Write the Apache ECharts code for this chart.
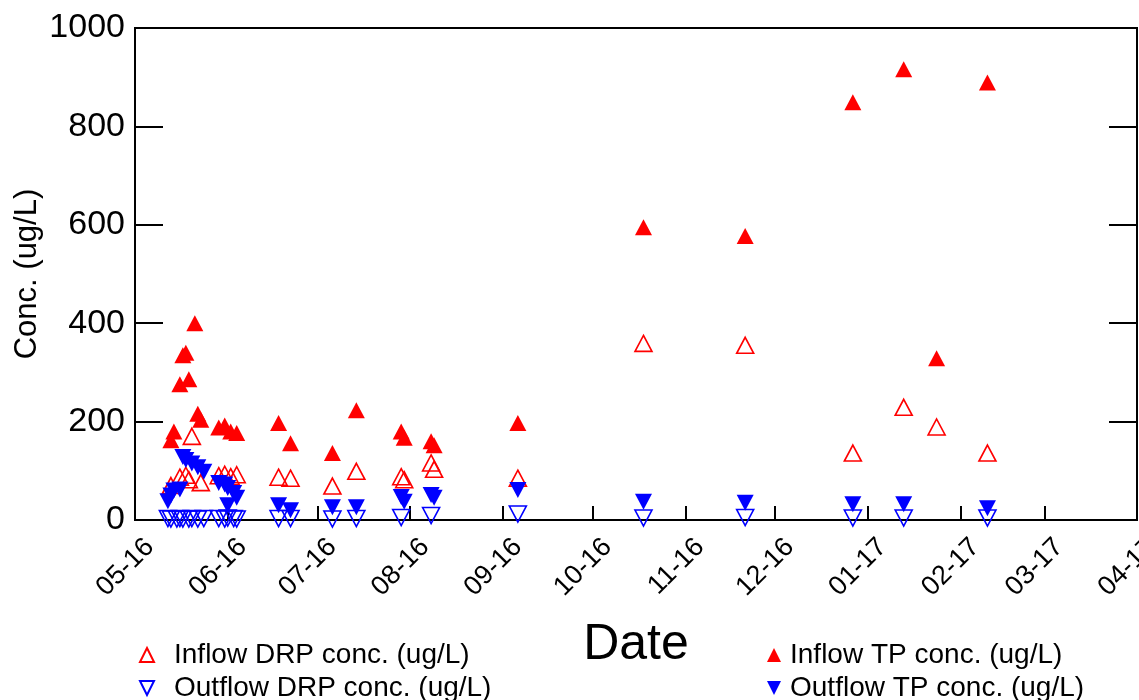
<!DOCTYPE html>
<html>
<head>
<meta charset="utf-8">
<title>Conc. (ug/L)</title>
<script src="https://cdn.jsdelivr.net/npm/echarts@6/dist/echarts.min.js"></script>
<style>
  html, body { margin: 0; padding: 0; background: #fff; }
  #chart { width: 1139px; height: 700px; }
</style>
</head>
<body>
<div id="chart"></div>
<script>
// month ticks on the date axis
const monthTicks = ['2016-05-01', '2016-06-01', '2016-07-01', '2016-08-01', '2016-09-01', '2016-10-01',
  '2016-11-01', '2016-12-01', '2017-01-01', '2017-02-01', '2017-03-01', '2017-04-01'];
const yTicks = [0, 200, 400, 600, 800, 1000];

// Inflow TP conc. (ug/L)
const inTpDates = ['2016-05-13', '2016-05-14', '2016-05-16', '2016-05-17', '2016-05-18', '2016-05-19',
  '2016-05-21', '2016-05-22', '2016-05-23', '2016-05-29', '2016-05-31', '2016-06-02', '2016-06-04',
  '2016-06-18', '2016-06-22', '2016-07-06', '2016-07-14', '2016-07-29', '2016-07-30', '2016-08-08',
  '2016-08-09', '2016-09-06', '2016-10-18', '2016-11-21', '2016-12-27', '2017-01-13', '2017-01-24',
  '2017-02-10'];
const inTpValues = [162, 180, 276, 335, 340, 286,
  400, 216, 204, 188, 192, 180, 177,
  197, 156, 136, 223, 180, 167, 160,
  152, 197, 595, 577, 849, 916, 329,
  889];

// Inflow DRP conc. (ug/L)
const inDrpDates = ['2016-05-13', '2016-05-16', '2016-05-18', '2016-05-19', '2016-05-20', '2016-05-23',
  '2016-05-29', '2016-05-31', '2016-06-02', '2016-06-04', '2016-06-18', '2016-06-22', '2016-07-06',
  '2016-07-14', '2016-07-29', '2016-07-30', '2016-08-08', '2016-08-09', '2016-09-06', '2016-10-18',
  '2016-11-21', '2016-12-27', '2017-01-13', '2017-01-24', '2017-02-10'];
const inDrpValues = [70, 87, 91, 82, 170, 76,
  90, 93, 88, 92, 87, 85, 69,
  99, 88, 82, 116, 103, 85, 359,
  355, 136, 229, 189, 136];

// Outflow TP conc. (ug/L)
const outTpDates = ['2016-05-12', '2016-05-13', '2016-05-14', '2016-05-16', '2016-05-17', '2016-05-18',
  '2016-05-20', '2016-05-22', '2016-05-24', '2016-05-29', '2016-05-31', '2016-06-01', '2016-06-01',
  '2016-06-03', '2016-06-04', '2016-06-18', '2016-06-22', '2016-07-06', '2016-07-14', '2016-07-29',
  '2016-07-30', '2016-08-08', '2016-08-09', '2016-09-06', '2016-10-18', '2016-11-21', '2016-12-27',
  '2017-01-13', '2017-02-10'];
const outTpValues = [38, 50, 60, 62, 128, 122,
  115, 107, 98, 75, 72, 30, 65,
  55, 45, 30, 20, 26, 26, 47,
  37, 51, 45, 61, 37, 35, 32,
  32, 24];

// Outflow DRP conc. (ug/L)
const outDrpDates = ['2016-05-12', '2016-05-13', '2016-05-15', '2016-05-16', '2016-05-17', '2016-05-19',
  '2016-05-20', '2016-05-22', '2016-05-24', '2016-05-29', '2016-05-31', '2016-06-01', '2016-06-03',
  '2016-06-04', '2016-06-18', '2016-06-22', '2016-07-06', '2016-07-14', '2016-07-29', '2016-08-08',
  '2016-09-06', '2016-10-18', '2016-11-21', '2016-12-27', '2017-01-13', '2017-02-10'];
const outDrpValues = [3, 2, 2, 3, 2, 2,
  3, 2, 3, 3, 2, 4, 3,
  2, 3, 3, 2, 3, 5, 9,
  12, 4, 5, 4, 4, 4];

function toTime(s) {
  const p = s.split('-');
  return new Date(+p[0], +p[1] - 1, +p[2]).getTime();
}
function zip(dates, values) {
  return dates.map((d, i) => [toTime(d), values[i]]);
}

const tickTimes = monthTicks.map(toTime);
const FONT = 'Liberation Sans';
const RED = '#ff0000';
const BLUE = '#0000ff';
const HOLLOW = 'rgba(255,255,255,0)';
const MARK = [17, 16];
const UP = 'triangle';
const DOWN = 'path://M0,0L20,0L10,20Z';

function legendAt(name, left, top, pad) {
  return {
    left: left, top: top, itemWidth: 14, itemHeight: 14,
    textStyle: { fontFamily: FONT, fontSize: 28, color: '#000', padding: [0, 0, 0, pad] },
    data: [name]
  };
}

const chart = echarts.init(document.getElementById('chart'));
const option = {
  animation: false,
  textStyle: { fontFamily: FONT },
  grid: {
    left: 135, right: 2, top: 28, bottom: 180,
    outerBoundsMode: 'none',
    containLabel: false,
    show: true, borderColor: '#000', borderWidth: 2, backgroundColor: 'transparent'
  },
  legend: [
    legendAt('Inflow DRP conc. (ug/L)', 134, 636, 15),
    legendAt('Outflow DRP conc. (ug/L)', 134, 669, 15),
    legendAt('Inflow TP conc. (ug/L)', 762, 636, 4),
    legendAt('Outflow TP conc. (ug/L)', 762, 669, 4)
  ],
  xAxis: {
    type: 'value',
    scale: true,
    min: tickTimes[0],
    max: tickTimes[tickTimes.length - 1],
    name: 'Date',
    nameLocation: 'middle',
    nameGap: 100,
    nameTextStyle: { fontFamily: FONT, fontSize: 50, color: '#000' },
    axisLine: { show: true, lineStyle: { color: '#000', width: 2 } },
    axisTick: { show: true, inside: true, length: 14, customValues: tickTimes, lineStyle: { color: '#000', width: 2 } },
    axisLabel: {
      customValues: tickTimes,
      rotate: 45,
      verticalAlign: 'top',
      lineHeight: 42,
      margin: 8,
      fontFamily: FONT,
      fontSize: 27,
      color: '#000',
      formatter: function (v) {
        const d = new Date(v);
        const mm = String(d.getMonth() + 1).padStart(2, '0');
        const yy = String(d.getFullYear() % 100).padStart(2, '0');
        return mm + '-' + yy;
      }
    },
    splitLine: { show: false }
  },
  yAxis: [
    {
      type: 'value',
      min: yTicks[0],
      max: yTicks[yTicks.length - 1],
      interval: 200,
      name: 'Conc. (ug/L)',
      nameLocation: 'middle',
      nameGap: 92,
      nameMoveOverlap: false,
      nameTextStyle: { fontFamily: FONT, fontSize: 31, color: '#000' },
      axisLine: { show: true, lineStyle: { color: '#000', width: 2 } },
      axisTick: { show: true, inside: true, length: 28, lineStyle: { color: '#000', width: 2 } },
      axisLabel: { fontFamily: FONT, fontSize: 34, color: '#000', margin: 10, formatter: v => String(v) },
      splitLine: { show: false }
    },
    {
      type: 'value',
      position: 'right',
      min: yTicks[0],
      max: yTicks[yTicks.length - 1],
      interval: 200,
      axisLine: { show: true, lineStyle: { color: '#000', width: 2 } },
      axisTick: { show: true, inside: true, length: 28, lineStyle: { color: '#000', width: 2 } },
      axisLabel: { show: false },
      splitLine: { show: false }
    }
  ],
  series: [
    {
      name: 'Inflow TP conc. (ug/L)',
      type: 'scatter',
      symbol: UP,
      symbolSize: MARK,
      itemStyle: { color: RED, opacity: 1 },
      data: zip(inTpDates, inTpValues)
    },
    {
      name: 'Inflow DRP conc. (ug/L)',
      type: 'scatter',
      symbol: UP,
      symbolSize: MARK,
      itemStyle: { color: HOLLOW, borderColor: RED, borderWidth: 1.6, opacity: 1 },
      data: zip(inDrpDates, inDrpValues)
    },
    {
      name: 'Outflow TP conc. (ug/L)',
      type: 'scatter',
      symbol: DOWN,
      symbolSize: MARK,
      itemStyle: { color: BLUE, opacity: 1 },
      data: zip(outTpDates, outTpValues)
    },
    {
      name: 'Outflow DRP conc. (ug/L)',
      type: 'scatter',
      symbol: DOWN,
      symbolSize: MARK,
      itemStyle: { color: HOLLOW, borderColor: BLUE, borderWidth: 1.6, opacity: 1 },
      data: zip(outDrpDates, outDrpValues)
    }
  ]
};
chart.setOption(option);
</script>
</body>
</html>
